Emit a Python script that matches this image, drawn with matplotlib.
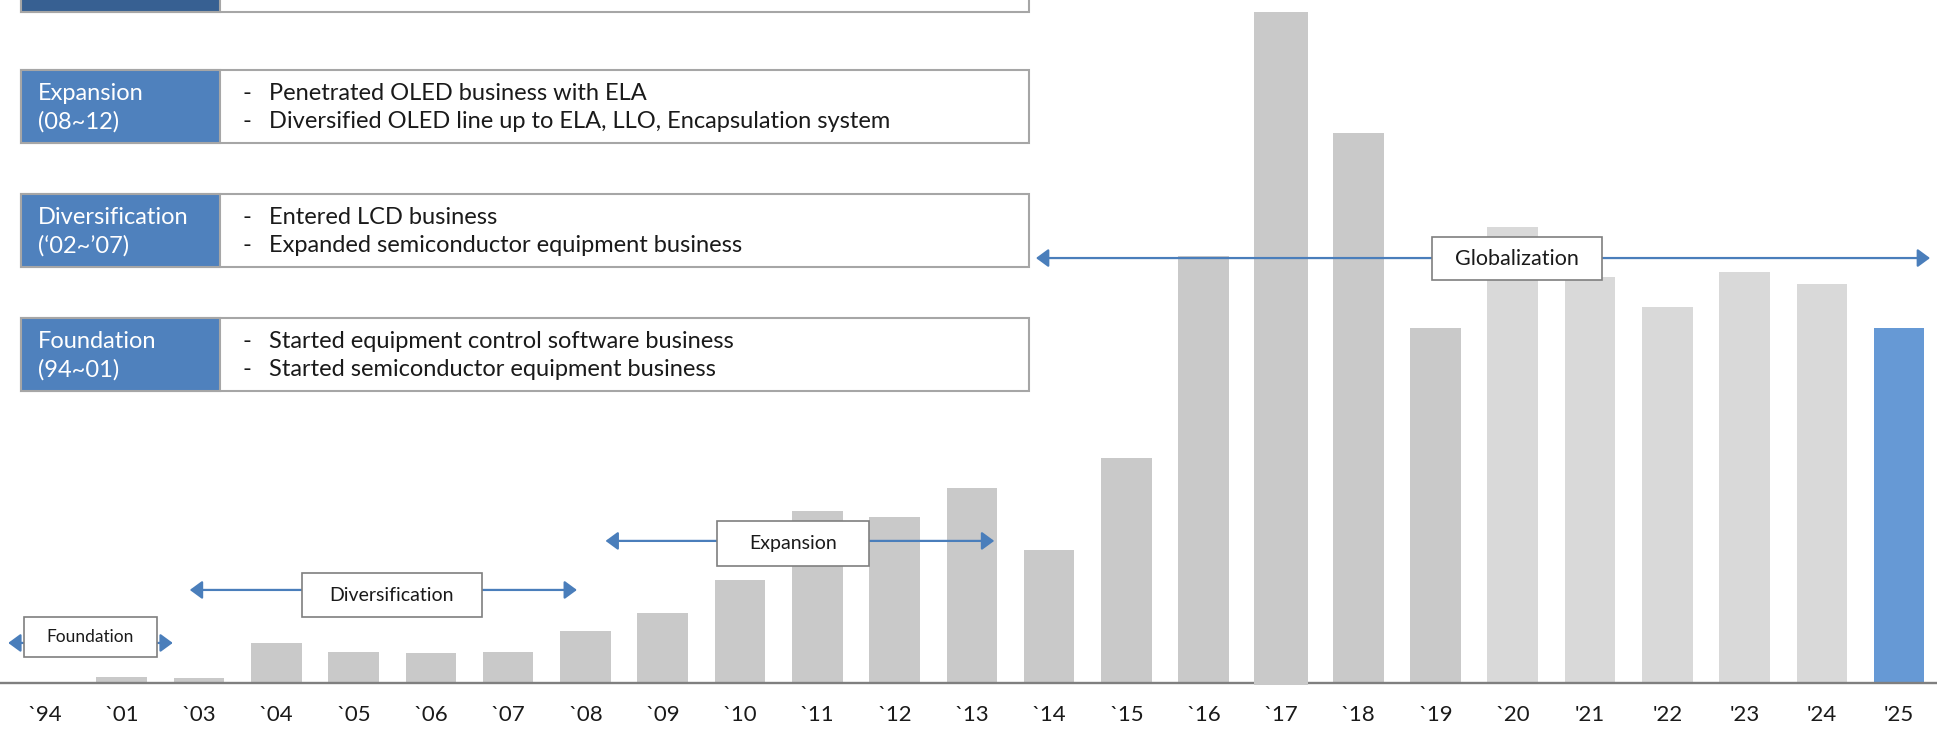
import matplotlib
matplotlib.use("Agg")
import matplotlib.pyplot as plt
from matplotlib.patches import Rectangle, FancyArrowPatch

# ---------------- data ----------------
years = ["`94", "`01", "`03", "`04", "`05", "`06", "`07", "`08", "`09", "`10",
         "`11", "`12", "`13", "`14", "`15", "`16", "`17", "`18", "`19", "`20",
         "'21", "'22", "'23", "'24", "'25"]
sales = [0, 5, 4, 32, 25, 24, 25, 42, 57, 83,
         139, 134, 158, 108, 182, 346, 543, 445, 287, 369,
         329, 304, 333, 323, 287]

phase_names = ["Foundation", "Diversification", "Expansion", "Globalization"]
phase_start = ["`94", "`03", "`09", "`14"]
phase_end = ["`01", "`08", "`13", "'25"]

box_titles = ["Expansion", "Diversification", "Foundation"]
box_periods = ["(08~12)", "(\u201802~\u201907)", "(94~01)"]
box_lines = [
    ["Penetrated OLED business with ELA",
     "Diversified OLED line up to ELA, LLO, Encapsulation system"],
    ["Entered LCD business",
     "Expanded semiconductor equipment business"],
    ["Started equipment control software business",
     "Started semiconductor equipment business"],
]

# ---------------- style ----------------
plt.rcParams["font.family"] = ["Lato", "DejaVu Sans"]
GREY = "#c9c9c9"
LIGHT = "#d9d9d9"
BLUE_BAR = "#6699d5"
ARROW = "#4a7ebb"
LABEL_BLUE = "#4f81bd"
DARK_BLUE = "#376092"
BORDER = "#a6a6a6"
TXT = "#1a1a1a"

W, H = 1937, 732
fig = plt.figure(figsize=(W / 100, H / 100), dpi=100)
ax = fig.add_axes([0, 0, 1, 1])
ax.set_xlim(-0.576, 24.49)
ax.set_ylim(-39.7, 552.9)
ax.axis("off")

x = list(range(len(years)))
peak = sales.index(max(sales))
colors = []
for i in x:
    if i == len(x) - 1:
        colors.append(BLUE_BAR)
    elif i >= years.index("`20"):
        colors.append(LIGHT)
    else:
        colors.append(GREY)

others = [i for i in x if i != peak]
ax.bar(others, [sales[i] for i in others], width=0.655,
       color=[colors[i] for i in others], zorder=1)
ax.axhline(0, color="#7f7f7f", lw=1.7, zorder=2)
# the peak bar sits over the axis line
ax.bar(peak, sales[peak] + 1.5, bottom=-1.5, width=0.69, color=colors[peak], zorder=3)

for i, lab in enumerate(years):
    ax.text(i, -25.9, lab, ha="center", va="center", fontsize=16, color=TXT)

# phase arrows with labels
arrow_pad = [(-0.47, 0.66), (-0.12, -0.11), (-0.74, 0.29), (-0.17, 0.40)]
arrow_y = [32.4, 75.3, 115, 344]
label_x = [(-0.265, 1.456), (3.33, 5.66), (8.70, 10.67), (17.96, 20.16)]
label_y = [(21, 53.4), (53.4, 89), (95, 131), (326, 361)]
label_size = [12.5, 14, 14, 15.5]
for k, name in enumerate(phase_names):
    x0 = years.index(phase_start[k]) + arrow_pad[k][0]
    x1 = years.index(phase_end[k]) + arrow_pad[k][1]
    arr = FancyArrowPatch((x0, arrow_y[k]), (x1, arrow_y[k]),
                          arrowstyle="<|-|>,head_length=0.75,head_width=0.55",
                          mutation_scale=10, color=ARROW, lw=1.6,
                          shrinkA=0, shrinkB=0, zorder=4)
    ax.add_patch(arr)
    lx0, lx1 = label_x[k]
    ly0, ly1 = label_y[k]
    ax.add_patch(Rectangle((lx0, ly0), lx1 - lx0, ly1 - ly0, facecolor="white",
                           edgecolor="#7f7f7f", lw=1.2, zorder=5))
    ax.text((lx0 + lx1) / 2, (ly0 + ly1) / 2, name, ha="center", va="center",
            fontsize=label_size[k], color=TXT, zorder=6)

# description boxes (pixel coordinates)
ov = fig.add_axes([0, 0, 1, 1], facecolor="none")
ov.set_xlim(0, W)
ov.set_ylim(H, 0)
ov.axis("off")

left, split, right = 21, 220, 1029
box_h = 73


def draw_box(top, fill):
    ov.add_patch(Rectangle((left, top), right - left, box_h, facecolor="white",
                           edgecolor=BORDER, lw=1.5))
    ov.add_patch(Rectangle((left, top), split - left, box_h, facecolor=fill,
                           edgecolor=BORDER, lw=1.5))


# top box is cut off by the frame
draw_box(12 - box_h, DARK_BLUE)

tops = [70, 194, 318]
for k, top in enumerate(tops):
    draw_box(top, LABEL_BLUE)
    ov.text(38, top + 24, box_titles[k], ha="left", va="center",
            fontsize=17, color="white")
    ov.text(38, top + 52, box_periods[k], ha="left", va="center",
            fontsize=17, color="white")
    for j, line in enumerate(box_lines[k]):
        yy = top + 24 + 28 * j
        ov.text(242, yy, "-", ha="left", va="center", fontsize=17, color=TXT)
        ov.text(269, yy, line, ha="left", va="center", fontsize=17, color=TXT)

fig.savefig("out.png", dpi=100)
